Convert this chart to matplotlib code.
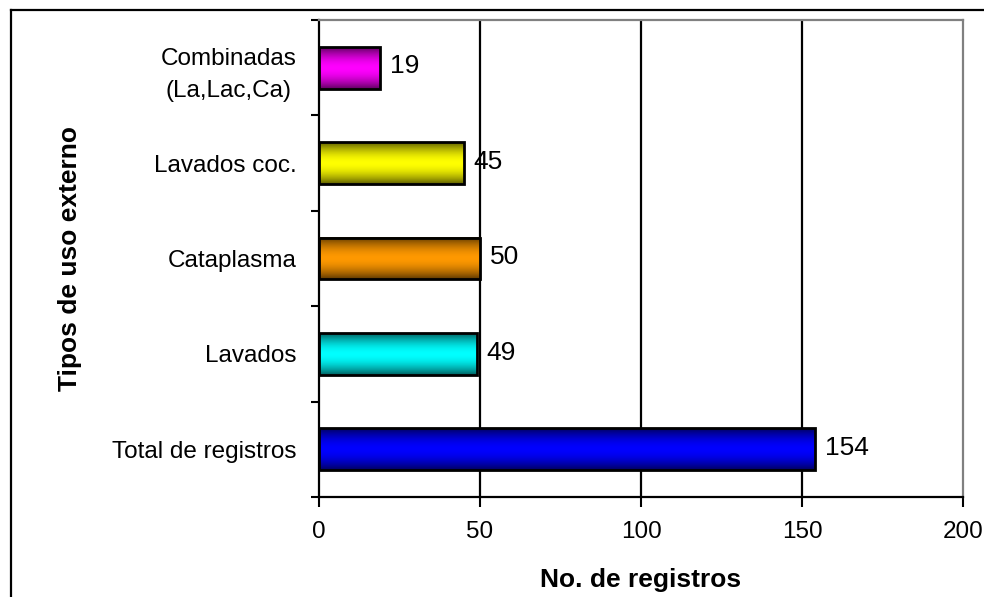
import numpy as np
import matplotlib
matplotlib.use("Agg")
import matplotlib.pyplot as plt
from matplotlib.lines import Line2D
from matplotlib.patches import Rectangle
from matplotlib.colors import to_rgb

plt.rcParams["font.family"] = ["Liberation Sans", "DejaVu Sans"]

# data, bottom to top
categories = ["Total de registros", "Lavados", "Cataplasma", "Lavados coc.",
              "Combinadas\n(La,Lac,Ca)"]
values = [154, 49, 50, 45, 19]
colors = ["#0000FF", "#00FFFF", "#FF9900", "#FFFF00", "#FF00FF"]
xticks = [0, 50, 100, 150, 200]

fig = plt.figure(figsize=(9.84, 5.97), dpi=100)
ax = fig.add_axes([0.3242, 0.1675, 0.9787 - 0.3242, 0.9665 - 0.1675])

bar_h = 0.44
ypos = np.arange(len(categories))

# vertical shading profile for the bars
t = np.linspace(-1, 1, 64)
shade = 1 - 0.62 * np.abs(t) ** 1.8

for y, v, c in zip(ypos, values, colors):
    rgb = np.array(to_rgb(c))
    img = shade[:, None, None] * rgb[None, None, :]
    ax.imshow(img, extent=(0, v, y - bar_h / 2, y + bar_h / 2),
              aspect="auto", origin="lower", zorder=3, interpolation="bilinear")
    ax.add_patch(Rectangle((0, y - bar_h / 2), v, bar_h, fill=False,
                           edgecolor="black", lw=2, zorder=4))
    ax.annotate(str(v), (v, y), xytext=(7, 1), textcoords="offset points",
                ha="left", va="center", fontsize=19, zorder=5)

ax.set_xlim(0, 200)
ax.set_ylim(-0.5, len(categories) - 0.5)

for x in xticks[1:-1]:
    ax.axvline(x, color="black", lw=1.6, zorder=1)

ax.set_xticks(xticks)
ax.set_xticklabels([str(x) for x in xticks], fontsize=17.5)
ax.tick_params(axis="x", direction="out", length=7, width=1.5, pad=10)

ax.set_yticks(np.arange(len(categories) + 1) - 0.5)
ax.set_yticklabels([])
ax.tick_params(axis="y", which="major", direction="out", length=6, width=1.5)
ax.set_yticks(ypos, minor=True)
ax.set_yticklabels(categories, minor=True, fontsize=17.5,
                   multialignment="center", linespacing=1.6)
ax.tick_params(axis="y", which="minor", length=0, pad=16)

ax.spines["left"].set_color("black")
ax.spines["left"].set_linewidth(1.6)
ax.spines["bottom"].set_color("black")
ax.spines["bottom"].set_linewidth(1.6)
ax.spines["top"].set_color("#808080")
ax.spines["top"].set_linewidth(1.6)
ax.spines["right"].set_color("#808080")
ax.spines["right"].set_linewidth(1.6)

ax.set_xlabel("No. de registros", fontsize=19, fontweight="bold", labelpad=18)
fig.text(0.071, 0.567, "Tipos de uso externo", rotation=90, fontsize=19,
         fontweight="bold", ha="center", va="center")

# outer frame of the chart
fig.add_artist(Line2D([11 / 984, 11 / 984], [0, 1 - 10 / 597],
                      transform=fig.transFigure, color="black", lw=1.6))
fig.add_artist(Line2D([11 / 984, 1], [1 - 10 / 597, 1 - 10 / 597],
                      transform=fig.transFigure, color="black", lw=1.6))

fig.savefig("out.png", dpi=100)
